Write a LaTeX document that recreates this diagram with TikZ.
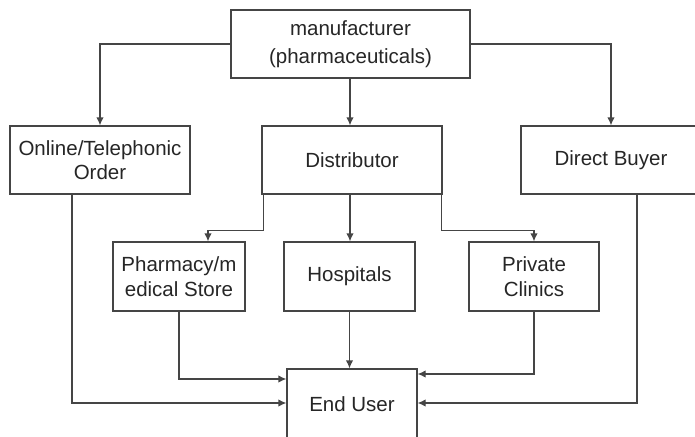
\documentclass[tikz,border=0pt]{standalone}
\usepackage{fontspec}
\setmainfont{Liberation Sans}
\usetikzlibrary{arrows.meta,calc}
\definecolor{linegray}{HTML}{454545}
\definecolor{textgray}{HTML}{262626}
\begin{document}
\begin{tikzpicture}[x=1pt,y=-1pt,
  box/.style={draw=linegray,line width=1.3pt,fill=white,text=textgray,
    minimum width=180pt,minimum height=68pt,inner sep=0pt,align=center,
    font=\fontsize{20.5}{24.5}\selectfont},
  smallbox/.style={box,minimum width=131pt,minimum height=69pt},
  conn/.style={draw=linegray,line width=1.3pt,-{Latex[length=8pt,width=7.5pt]}}]
\useasboundingbox (0,0) rectangle (695,436);
\fill[white] (0,0) rectangle (695,436);
\node[box,minimum width=239pt,font=\fontsize{20.5}{28.5}\selectfont] (man) at (350.5,44) {manufacturer\\(pharmaceuticals)};
\node[box] (online) at (100,160) {Online/Telephonic\\Order};
\node[box] (dist) at (352,160) {Distributor};
\node[box] (direct) at (611,160) {Direct Buyer};
\node[smallbox,minimum width=132pt] (pharm) at (179,276.5) {Pharmacy/m\\edical Store};
\node[smallbox] (hosp) at (349.5,276.5) {Hospitals};
\node[smallbox,minimum width=130pt] (priv) at (534,276.5) {Private\\Clinics};
\node[box,minimum width=130pt,minimum height=70pt] (end) at (352,404) {End User};
% manufacturer outputs
\draw[conn] (man.west) -| (online.north);
\draw[conn] ([xshift=-0.5pt]man.south) -- ([xshift=-0.5pt]man.south |- dist.north);
\draw[conn] (man.east) -| (direct.north);
% distributor outputs
\draw[conn] ([xshift=2pt]dist.south west) -- ++(0,36) -| ([xshift=29pt]pharm.north);
\draw[conn] ([xshift=-2pt]dist.south) -- ([xshift=-2pt]dist.south |- hosp.north);
\draw[conn] ([xshift=-1pt]dist.south east) -- ++(0,36) -| (priv.north);
% to end user
\draw[conn] (pharm.south) |- ([yshift=25pt]end.west);
\draw[conn] ([xshift=-28pt]online.south) |- ([yshift=1pt]end.west);
\draw[conn] (hosp.south) -- (hosp.south |- end.north);
\draw[conn] (priv.south) |- ([yshift=30pt]end.east);
\draw[conn] ([xshift=26pt]direct.south) |- ([yshift=1pt]end.east);
\end{tikzpicture}
\end{document}
